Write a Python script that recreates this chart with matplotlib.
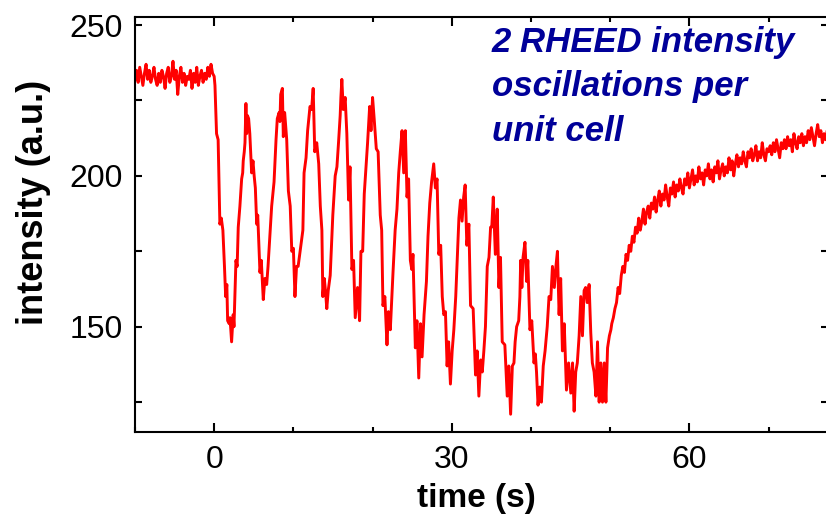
import numpy as np
import matplotlib
matplotlib.use('Agg')
from matplotlib import pyplot as plt
from matplotlib.ticker import MultipleLocator

plt.rcParams['font.family'] = ['Liberation Sans', 'DejaVu Sans']

# flat part before the shutter opens (sampled every 0.2 s)
t_base = np.arange(-10, 0, 0.2)
i_base = [232, 235, 231, 236, 233, 230, 234, 237, 232, 235,
          231, 233, 236, 232, 230, 234, 231, 235, 233, 229,
          234, 236, 231, 233, 238, 232, 235, 227, 233, 236,
          231, 234, 230, 233, 232, 235, 229, 234, 231, 236,
          230, 233, 235, 231, 234, 232, 236, 233, 237, 234]

# growth with oscillations
t_osc = [0.0, 0.1, 0.2, 0.3, 0.5, 0.6, 0.72, 0.9, 1.1, 1.3, 1.45, 1.6, 1.7, 1.9, 2.0,
         2.2, 2.4, 2.5, 2.75, 2.9, 3.04, 3.25, 3.47, 3.6, 3.67, 3.8, 3.89, 3.95, 4.01,
         4.1, 4.2, 4.35, 4.5, 4.73, 4.9, 5.05, 5.2, 5.37, 5.5, 5.78, 5.95, 6.2, 6.4,
         6.63, 6.8, 6.96, 7.26, 7.56, 7.81, 7.97, 8.2, 8.3, 8.4, 8.61, 8.73, 8.9, 9.16,
         9.37, 9.6, 9.8, 10.0, 10.2, 10.4, 10.6, 10.9, 11.2, 11.35, 11.6, 11.8, 12.1,
         12.3, 12.5, 12.7, 12.95, 13.2, 13.4, 13.6, 13.72, 13.9, 14.05, 14.22, 14.4,
         14.65, 14.98, 15.28, 15.5, 15.7, 15.91, 16.0, 16.12, 16.3, 16.54, 16.75,
         16.97, 17.15, 17.39, 17.6, 17.81, 18.1, 18.36, 18.53, 18.75, 18.95, 19.15,
         19.37, 19.63, 19.8, 20.0, 20.2, 20.47, 20.7, 20.97, 21.15, 21.31, 21.55,
         21.82, 22.0, 22.24, 22.58, 22.85, 23.08, 23.3, 23.5, 23.72, 23.93, 24.14,
         24.35, 24.55, 24.77, 24.95, 25.1, 25.4, 25.6, 25.83, 26.05, 26.25, 26.5,
         26.8, 27.0, 27.22, 27.45, 27.72, 27.93, 28.14, 28.36, 28.6, 28.8, 28.99,
         29.2, 29.41, 29.6, 29.83, 30.05, 30.26, 30.5, 30.68, 30.9, 31.1, 31.3, 31.5,
         31.69, 31.9, 32.16, 32.37, 32.7, 33.0, 33.2, 33.42, 33.65, 33.85, 34.05,
         34.25, 34.48, 34.7, 34.9, 35.05, 35.24, 35.5, 35.74, 35.95, 36.15, 36.37,
         36.7, 37.0, 37.2, 37.43, 37.65, 37.85, 38.0, 38.19, 38.45, 38.6, 38.7, 38.85,
         39.0, 39.24, 39.45, 39.6, 39.87, 40.1, 40.38, 40.55, 40.7, 40.89, 41.1,
         41.32, 41.55, 41.78, 42.05, 42.28, 42.5, 42.71, 42.95, 43.15, 43.34, 43.55,
         43.75, 43.97, 44.2, 44.48, 44.75, 45.03, 45.25, 45.45, 45.65, 45.85, 46.08,
         46.29, 46.5, 46.71, 46.9, 47.1, 47.34, 47.55, 47.75, 47.97, 48.2, 48.4,
         48.61, 48.82, 49.03, 49.25, 49.46, 49.67, 49.9, 50.09]
i_osc = [233, 230, 222, 214, 212, 200, 184, 186, 182, 170, 160, 164, 152, 151, 153,
         145, 154, 150, 172, 170, 183, 190, 199, 201, 205, 208, 211, 218, 224,
         214, 220, 219, 214, 201, 205, 200, 196, 184, 187, 168, 172, 159, 166,
         164, 170, 177, 190, 198, 212, 219, 221, 218, 227, 229, 213, 221, 212,
         195, 190, 175, 176, 160, 170, 170, 176, 182, 201, 206, 215, 223,
         222, 229, 208, 211, 204, 190, 182, 160, 166, 162, 156, 162,
         167, 187, 200, 203, 211, 220, 226, 232, 222, 226, 214,
         192, 203, 169, 172, 153, 163, 152, 175, 175, 194, 202,
         211, 223, 215, 226, 219, 209, 208, 187, 182, 157, 160,
         144, 155, 149, 168, 182, 189, 201, 208, 215, 201, 215,
         193, 199, 172, 169, 174, 143, 152, 133, 151, 140, 154,
         165, 180, 191, 198, 204, 196, 199, 174, 177, 160, 154,
         155, 137, 145, 131, 142, 149, 160, 172, 186, 192, 185, 193,
         197, 177, 184, 157, 156, 134, 142, 127, 139, 135, 142,
         150, 170, 173, 183, 183, 193, 174, 189, 163, 173, 145,
         144, 127, 137, 121, 137, 138, 145, 150, 152, 160, 172, 163,
         173, 178, 165, 172, 149, 152, 138, 141, 135, 124, 130,
         125, 137, 142, 150, 160, 159, 170, 163, 170, 175, 154,
         166, 142, 151, 129, 138, 128, 138, 122, 135, 138, 147,
         160, 147, 162, 163, 158, 164, 148, 138, 135, 127, 145,
         125, 138, 125, 138, 125, 143, 147, 149]

# recovery after growth stops (sampled every 0.2 s)
t_rec = np.arange(50.2, 77.5, 0.2)
i_rec = [151, 153, 156, 158, 163, 161, 167, 170, 168, 174,
         172, 177, 175, 180, 178, 183, 181, 186, 182, 185,
         189, 184, 188, 190, 186, 191, 189, 193, 188, 192,
         195, 190, 194, 192, 197, 193, 190, 196, 194, 198,
         193, 197, 195, 199, 196, 194, 199, 197, 201, 196,
         199, 202, 197, 200, 198, 203, 199, 201, 197, 202,
         200, 204, 199, 202, 198, 203, 201, 205, 199, 202,
         204, 200, 203, 201, 206, 202, 205, 200, 204, 207,
         203, 206, 204, 208, 205, 203, 208, 206, 209, 205,
         207, 210, 205, 208, 206, 211, 207, 205, 209, 208,
         210, 207, 211, 208, 212, 209, 206, 211, 209, 212,
         209, 213, 210, 212, 208, 214, 211, 209, 213, 211,
         214, 210, 213, 211, 215, 212, 216, 213, 210, 214,
         217, 213, 215, 211, 214, 212, 215]

t = np.concatenate([t_base, t_osc, t_rec])
intensity = np.concatenate([i_base, i_osc, i_rec])

fig = plt.figure(figsize=(8.26, 5.19), dpi=100)
ax = fig.add_axes([0.1634, 0.167, 0.839, 0.801])
ax.plot(t, intensity, color='red', linewidth=2.1)

ax.set_xlim(-10, 77.5)
ax.set_ylim(115, 252.8)
ax.xaxis.set_major_locator(MultipleLocator(30))
ax.xaxis.set_minor_locator(MultipleLocator(10))
ax.yaxis.set_major_locator(MultipleLocator(50))
ax.yaxis.set_minor_locator(MultipleLocator(25))

for s in ax.spines.values():
    s.set_linewidth(1.5)
ax.tick_params(which='both', direction='in', top=True, right=True, width=1.5,
               labelsize=23, pad=9)
ax.tick_params(axis='x', which='major', length=6.5)
ax.tick_params(axis='x', which='minor', length=3.5)
ax.tick_params(axis='y', which='both', length=5)

ax.set_xlabel('time (s)', fontsize=24, fontweight='bold')
ax.set_ylabel('intensity (a.u.)', fontsize=26, fontweight='bold')
ax.xaxis.set_label_coords(0.492, -0.16)
ax.xaxis.label.set_va('center')
ax.yaxis.set_label_coords(-0.146, 0.552)
ax.yaxis.label.set_va('center')

ax.text(0.515, 0.978, '2 RHEED intensity\noscillations per\nunit cell',
        transform=ax.transAxes, ha='left', va='top', fontsize=25,
        fontweight='bold', fontstyle='italic', color='#000099', linespacing=1.45)

fig.savefig('out.png', dpi=100)
